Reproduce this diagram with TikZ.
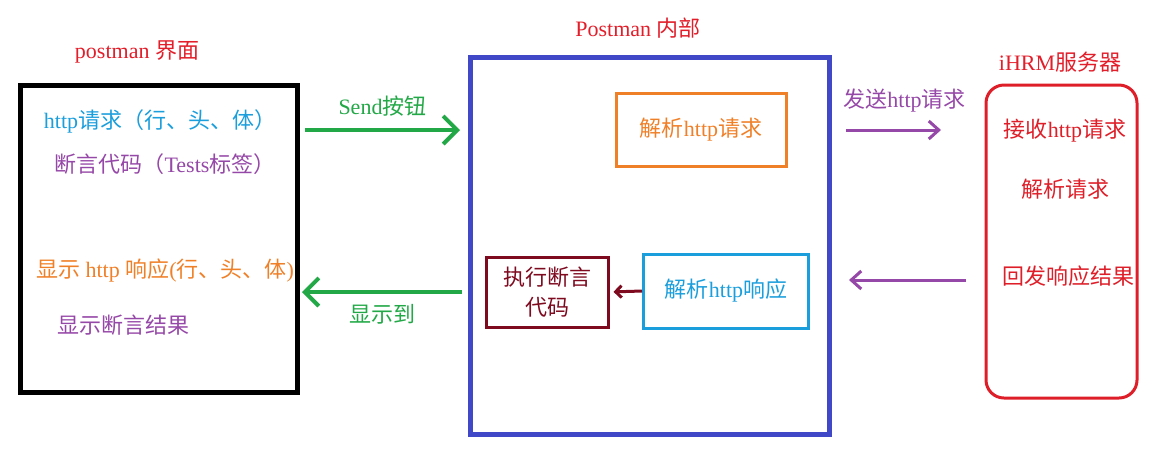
\documentclass[tikz,border=0pt]{standalone}
\usepackage{fontspec}
\usepackage{tikz}
\usetikzlibrary{arrows.meta}
\setmainfont{Liberation Serif}
\newfontfamily\cjk{Noto Sans CJK SC}
\newcommand{\zh}[1]{{\cjk #1}}
\definecolor{titre}{RGB}{226,30,42}
\definecolor{bleuhttp}{RGB}{26,158,220}
\definecolor{violet}{RGB}{150,72,168}
\definecolor{orange}{RGB}{240,128,40}
\definecolor{vert}{RGB}{34,168,70}
\definecolor{bleucadre}{RGB}{64,72,200}
\definecolor{bordeaux}{RGB}{126,10,32}
\definecolor{rouge}{RGB}{222,30,40}
\tikzset{
Texte/.style={
 font=\fontsize{11}{13}\selectfont, 
 inner sep=0pt
 },
Titre/.style={
 Texte, 
 text=titre
 },
Boite/.style={
 Texte, 
 draw=#1, 
 text=#1, 
 line width=1.5pt
 },
VFleche/.style={
 draw=vert, 
 line width=2pt, 
 -{Straight Barb[length=7pt,width=14pt]}
 },
PFleche/.style={
 draw=violet, 
 line width=1.5pt, 
 -{Straight Barb[length=5pt,width=9pt]}
 },
BFleche/.style={
 draw=bordeaux, 
 line width=1.5pt, 
 -{Straight Barb[length=3pt,width=6pt]}
 }
}
\begin{document}
\begin{tikzpicture}[x=0.5pt,y=-0.5pt]
\useasboundingbox (0,0) rectangle (1150,468);
\draw[line width=2.5pt] (20,85) rectangle (297,392);
\draw[line width=2.5pt,bleucadre] (470,57) rectangle (829,434);
\draw[line width=1.5pt,rouge,rounded corners=9pt] (986,85) rectangle (1137,398);
\node[Titre] (tUI) at (137,52) {postman \zh{界面}};
\node[Titre] (tPM) at (638,28) {Postman \zh{内部}};
\node[Titre] (tSrv) at (1060,62) {iHRM\zh{服务器}};
\node[Texte,text=bleuhttp] (req) at (160,121) {http\zh{请求（行、头、体）}};
\node[Texte,text=violet] (code) at (165,164) {\zh{断言代码（}Tests\zh{标签）}};
\node[Texte,text=orange] (resp) at (165,271) {\zh{显示} http \zh{响应}(\zh{行、头、体})};
\node[Texte,text=violet] (res) at (123,325) {\zh{显示断言结果}};
\node[Boite=orange,minimum width=85pt,minimum height=36.5pt] (parseReq) at (701,130) {\zh{解析}http\zh{请求}};
\node[Boite=bordeaux,minimum width=61pt,minimum height=35pt,align=center] (exec) at (547,292) {\zh{执行断言}\\[2pt]\zh{代码}};
\node[Boite=bleuhttp,minimum width=82.5pt,minimum height=37pt] (parseResp) at (726,291) {\zh{解析}http\zh{响应}};
\node[Texte,text=rouge] (recv) at (1065,131) {\zh{接收}http\zh{请求}};
\node[Texte,text=rouge] (parse) at (1065,189) {\zh{解析请求}};
\node[Texte,text=rouge] (back) at (1068,276) {\zh{回发响应结果}};
\coordinate (sendA) at (305,130);
\coordinate (sendB) at (460,130);
\coordinate (showA) at (462,292);
\coordinate (showB) at (302,292);
\coordinate (httpA) at (846,130);
\coordinate (httpB) at (941,130);
\coordinate (backA) at (966,280);
\coordinate (backB) at (849,280);
\draw[VFleche] (sendA) -- (sendB) node[midway,above=6pt,Texte,text=vert] (lSend) {Send\zh{按钮}};
\draw[VFleche] (showA) -- (showB) node[midway,below=5pt,Texte,text=vert] (lShow) {\zh{显示到}};
\draw[PFleche] (httpA) -- (httpB) node[midway,above=8pt,Texte,text=violet,xshift=5.5pt] (lHttp) {\zh{发送}http\zh{请求}};
\draw[PFleche] (backA) -- (backB);
\draw[BFleche,shorten >=2pt] (parseResp.west) -- (exec.east);
\end{tikzpicture}
\end{document}
